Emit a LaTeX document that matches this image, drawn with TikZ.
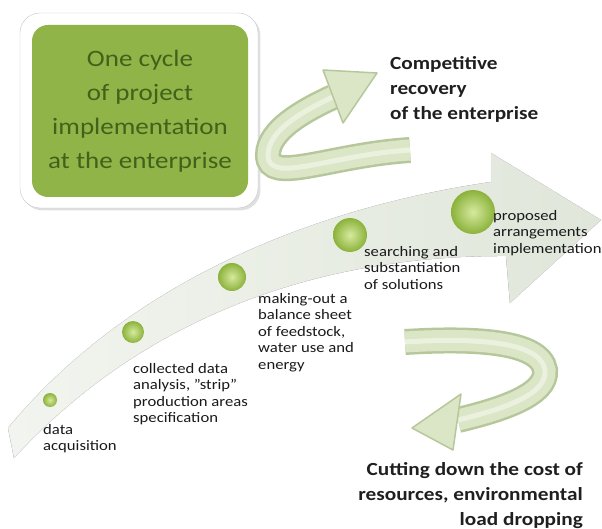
\documentclass[tikz,border=0pt]{standalone}
\usepackage{fontspec}
\setmainfont{Carlito}[FakeStretch=1.15]
\usetikzlibrary{shadows}
\definecolor{boxgreen}{HTML}{91B449}
\definecolor{boxtext}{HTML}{41621A}
\definecolor{ribbonfill}{HTML}{DAE6C6}
\definecolor{ribbonedge}{HTML}{B7C79C}
\definecolor{bandlight}{HTML}{F2F5EF}
\definecolor{banddark}{HTML}{E0E6DA}
\definecolor{ballin}{HTML}{D6EA9E}
\definecolor{ballout}{HTML}{8BB23B}

\begin{document}
\begin{tikzpicture}
[x=1pt,y=-1pt,
 lbl/.style={anchor=north west,align=left,inner sep=0pt,text=black!90,
   font=\fontsize{14.5}{16.5}\selectfont},
 bigtext/.style={inner sep=0pt,text=black!88,font=\bfseries\fontsize{18.5}{25}\selectfont},
 stage/.style={circle,inner sep=0pt,minimum size=#1,inner color=ballin,outer color=ballout},
 ribbon/.style={line width=21pt,draw=ribbonfill,
   preaction={draw=ribbonedge,line width=26pt},
   postaction={draw=white,line width=5pt,opacity=0.45}},
 ribbonhead/.style={fill=ribbonfill,draw=ribbonedge,line width=1.5pt,line join=round}]
\useasboundingbox (0,0) rectangle (602,529);

% main sweep
\filldraw[left color=bandlight,right color=banddark,draw=black!10]
  (8,428) .. controls (123,289) and (300,210) .. (491,182)
  -- (491,153) -- (601,220) -- (510,303) -- (506,256)
  .. controls (330,255) and (150,310) .. (14,458) -- cycle;

% card
\draw[rounded corners=20,fill=white,draw=black!22,drop shadow={opacity=0.25}]
  (20,13) rectangle (258,208);
\node[fill=boxgreen,rounded corners=16,minimum width=216,minimum height=172,
  align=center,text=boxtext,font=\fontsize{23.5}{34}\selectfont] (cycle) at (140,111)
  {One cycle\\of project\\implementation\\at the enterprise};

% upper ribbon
\draw[ribbon] (410,150) .. controls (330,155) and (268,185) .. (268,155)
  .. controls (268,130) and (305,110) .. (333,97);
\filldraw[ribbonhead] (323,70) -- (377,73) -- (343,123) -- cycle;

% lower ribbon
\draw[ribbon] (405,342) .. controls (470,338) and (540,340) .. (545,370)
  .. controls (548,395) and (500,410) .. (458,420);
\filldraw[ribbonhead] (461,394) -- (412,428) -- (453,450) -- cycle;

\node[bigtext,anchor=north west,align=left] (recovery) at (390,56)
  {Competitive\\recovery\\of the enterprise};
\node[bigtext,anchor=north east,align=right] (saving) at (583,462)
  {Cutting down the cost of\\resources, environmental\\load dropping};

% stages
\node[stage=14] (acq) at (50,400) {};
\node[stage=22] (anal) at (133,332) {};
\node[stage=28] (bal) at (232,277) {};
\node[stage=34] (sol) at (350,235) {};
\node[stage=44] (impl) at (473,212) {};

\node[lbl] (acq-lbl) at (43,424) {data\\acquisition};
\node[lbl] (anal-lbl) at (133,363) {collected data\\analysis, "strip"\\production areas\\specification};
\node[lbl] (bal-lbl) at (258,293) {making-out a\\balance sheet\\of feedstock,\\water use and\\energy};
\node[lbl] (sol-lbl) at (364,246) {searching and\\substantiation\\of solutions};
\node[lbl] (impl-lbl) at (493,210) {proposed\\arrangements\\implementation};
\end{tikzpicture}
\end{document}
